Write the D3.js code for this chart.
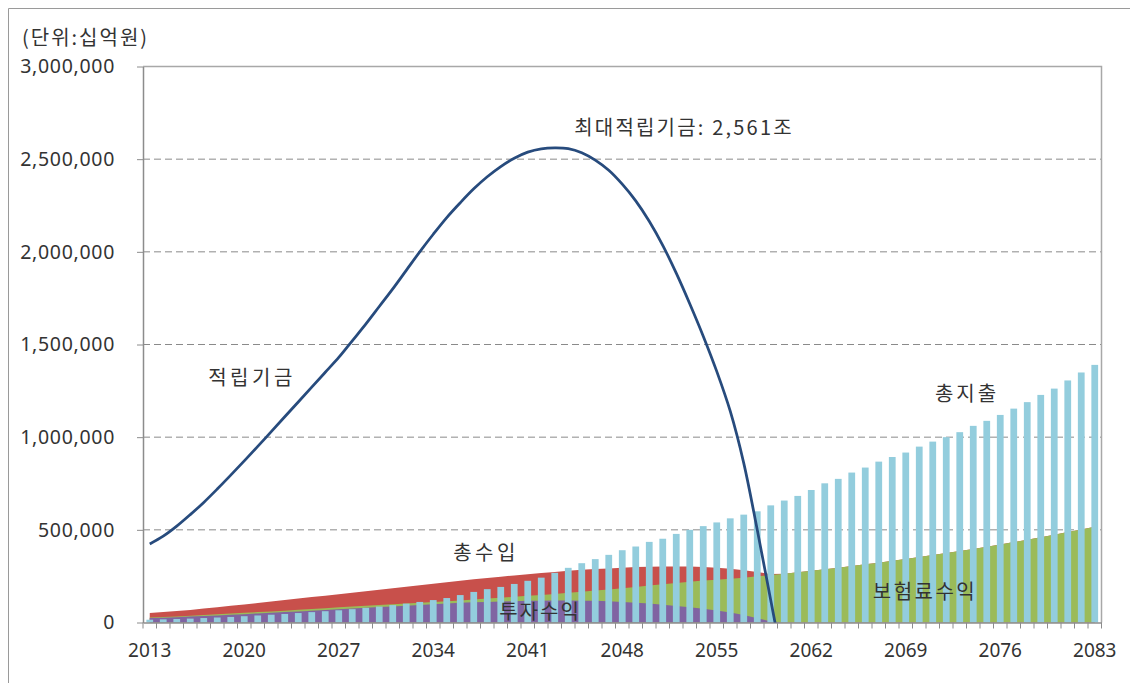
<!DOCTYPE html>
<html>
<head>
<meta charset="utf-8">
<script src="https://cdn.jsdelivr.net/npm/d3@7"></script>
<style>
  body { margin: 0; background: #fff; }
  svg { display: block; }
</style>
</head>
<body>
<svg id="chart" width="1136" height="683"></svg>
<script>
// 국민연금 재정추계 (단위: 십억원), 2013–2083
const years = d3.range(2013, 2084);
const xTickYears = [2013, 2020, 2027, 2034, 2041, 2048, 2055, 2062, 2069, 2076, 2083];
const yTickValues = [0, 500000, 1000000, 1500000, 2000000, 2500000, 3000000];

// 총지출
const totalExpense = [
  15000, 17000, 19000, 21000, 24000, 27000, 30000, 34000, 38000, 42000,          // 2013-2022
  46000, 51000, 56000, 61000, 66000, 72000, 79000, 86000, 94000, 102000,         // 2023-2032
  111000, 121000, 132000, 148000, 165000, 180000, 192000, 208000, 225000, 242000, // 2033-2042
  268000, 295000, 320000, 342000, 365000, 390000, 410000, 435000, 452000, 478000, // 2043-2052
  500000, 520000, 540000, 562000, 582000, 600000, 632000, 658000, 683000, 715000, // 2053-2062
  751000, 775000, 809000, 836000, 868000, 893000, 917000, 949000, 976000, 1000000, // 2063-2072
  1027000, 1061000, 1088000, 1120000, 1154000, 1189000, 1228000, 1262000, 1306000, 1349000, // 2073-2082
  1390000                                                                          // 2083
];

// 총수입
const totalIncome = [
  51000, 56000, 62000, 68000, 75000, 82000, 90000, 97000, 105000, 113000,
  121000, 129000, 137000, 145000, 153000, 161000, 169000, 177000, 185000, 193000,
  201000, 209000, 217000, 225000, 233000, 240000, 247000, 254000, 261000, 267000,
  273000, 279000, 284000, 289000, 292000, 296000, 299000, 301000, 302000, 302000,
  302000, 300000, 296000, 290000, 282000, 272000, 262000, 263000, 271000, 279000,
  287000, 296000, 305000, 314000, 323000, 333000, 343000, 353000, 364000, 375000,
  386000, 397000, 409000, 421000, 434000, 447000, 460000, 474000, 488000, 502000,
  517000
];

// 보험료수익
const premiumIncome = [
  27000, 30000, 33000, 36000, 40000, 44000, 48000, 52000, 56000, 60000,
  64000, 69000, 73000, 77000, 82000, 86000, 90000, 94000, 98000, 102000,
  106000, 110000, 114000, 119000, 124000, 129000, 134000, 139000, 144000, 149000,
  154000, 160000, 166000, 172000, 178000, 185000, 192000, 199000, 206000, 213000,
  220000, 226000, 231000, 236000, 242000, 249000, 256000, 263000, 271000, 279000,
  287000, 296000, 305000, 314000, 323000, 333000, 343000, 353000, 364000, 375000,
  386000, 397000, 409000, 421000, 434000, 447000, 460000, 474000, 488000, 502000,
  517000
];

// 투자수익 (기금 소진 이후 없음)
const investmentIncome = [
  24000, 26000, 29000, 32000, 35000, 38000, 42000, 45000, 49000, 53000,
  57000, 60000, 64000, 68000, 71000, 75000, 79000, 83000, 87000, 91000,
  95000, 99000, 103000, 106000, 109000, 111000, 113000, 115000, 117000, 118000,
  119000, 119000, 118000, 117000, 114000, 111000, 107000, 102000, 96000, 89000,
  82000, 74000, 65000, 54000, 40000, 23000, 6000, 0, null, null,
  null, null, null, null, null, null, null, null, null, null,
  null, null, null, null, null, null, null, null, null, null,
  null
];

// 적립기금 (2060년 소진)
const fundReserve = [
  424000, 466000, 520000, 582000, 648000, 720000, 795000, 872000, 950000, 1030000,
  1110000, 1190000, 1270000, 1350000, 1430000, 1520000, 1610000, 1705000, 1800000, 1900000,
  2000000, 2095000, 2185000, 2265000, 2340000, 2405000, 2460000, 2505000, 2538000, 2556000,
  2561000, 2557000, 2535000, 2495000, 2440000, 2365000, 2275000, 2165000, 2035000, 1885000,
  1720000, 1545000, 1355000, 1140000, 860000, 500000, 120000, -260000, null, null,
  null, null, null, null, null, null, null, null, null, null,
  null, null, null, null, null, null, null, null, null, null,
  null
];

const colors = {
  expense: "#93CDDD",
  income: "#C8504B",
  premium: "#9BBB59",
  investment: "#8064A2",
  fund: "#274B7D",
  grid: "#8A8A8A",
  axis: "#8C8C8C",
  text: "#333333"
};

const krFont = "'Noto Sans CJK KR', 'Noto Sans', sans-serif";
const numFont = "'Noto Sans', 'Noto Sans CJK KR', sans-serif";

const plot = { left: 143, top: 66.5, right: 1101.5, bottom: 622.5 };

const svg = d3.select("#chart");

// outer frame
svg.append("path")
  .attr("d", `M8.5,683 V8.5 H1130`)
  .attr("fill", "none")
  .attr("stroke", "#9a9a9a")
  .attr("stroke-width", 1);

const x = d3.scaleBand().domain(years).range([plot.left, plot.right]);
const xc = yr => x(yr) + x.bandwidth() / 2;
const xBar = d3.scaleBand().domain(years).range([plot.left, plot.right])
  .paddingInner(0.5).paddingOuter(0.25);
const y = d3.scaleLinear().domain([0, 3000000]).range([plot.bottom, plot.top]);

const rows = years.map((yr, i) => ({
  year: yr,
  expense: totalExpense[i],
  income: totalIncome[i],
  premium: premiumIncome[i],
  investment: investmentIncome[i],
  fund: fundReserve[i]
}));

// dashed gridlines
svg.append("g")
  .selectAll("line")
  .data(yTickValues.filter(v => v > 0 && v < 3000000))
  .join("line")
  .attr("x1", plot.left).attr("x2", plot.right)
  .attr("y1", d => y(d)).attr("y2", d => y(d))
  .attr("stroke", colors.grid)
  .attr("stroke-width", 1)
  .attr("stroke-dasharray", "7,4");

// overlapping income areas
function areaFor(key) {
  return d3.area()
    .defined(d => d[key] != null)
    .x(d => xc(d.year))
    .y0(y(0))
    .y1(d => y(d[key]));
}
const areas = svg.append("g");
[["income", colors.income], ["premium", colors.premium], ["investment", colors.investment]]
  .forEach(([key, col]) => {
    areas.append("path")
      .datum(rows)
      .attr("d", areaFor(key))
      .attr("fill", col);
  });

// 총지출 bars
svg.append("g")
  .selectAll("rect")
  .data(rows)
  .join("rect")
  .attr("x", d => xBar(d.year))
  .attr("width", xBar.bandwidth())
  .attr("y", d => y(d.expense))
  .attr("height", d => y(0) - y(d.expense))
  .attr("fill", colors.expense);

// plot border (top & right)
svg.append("path")
  .attr("d", `M${plot.left},${plot.top} H${plot.right} V${plot.bottom}`)
  .attr("fill", "none")
  .attr("stroke", "#a8a8a8")
  .attr("stroke-width", 1.5);

// y axis
const yAxis = svg.append("g")
  .attr("transform", `translate(${plot.left},0)`)
  .call(d3.axisLeft(y).tickValues(yTickValues).tickFormat(d3.format(","))
    .tickSize(6).tickSizeOuter(0).tickPadding(22));
yAxis.select(".domain").attr("stroke", colors.axis).attr("stroke-width", 1.5);
yAxis.selectAll(".tick line").attr("stroke", colors.axis);
yAxis.selectAll("text")
  .attr("font-family", numFont).attr("font-size", 19.5)
  .attr("letter-spacing", 0.7).attr("fill", colors.text);

// x axis: labels at category centres, tick marks between categories
const xAxis = svg.append("g")
  .attr("transform", `translate(0,${plot.bottom})`)
  .call(d3.axisBottom(x).tickValues(xTickYears).tickSize(0).tickSizeOuter(0).tickPadding(21));
xAxis.select(".domain").attr("stroke", colors.axis).attr("stroke-width", 1.5);
xAxis.selectAll("text")
  .attr("font-family", numFont).attr("font-size", 19).attr("fill", colors.text);
xAxis.selectAll(".edge")
  .data(years.concat([null]))
  .join("line")
  .attr("class", "edge")
  .attr("x1", d => d == null ? plot.right : x(d))
  .attr("x2", d => d == null ? plot.right : x(d))
  .attr("y1", 0).attr("y2", 6)
  .attr("stroke", colors.axis)
  .attr("stroke-width", 1);

// 적립기금 line, clipped to the plot area
svg.append("clipPath").attr("id", "plotClip")
  .append("rect")
  .attr("x", plot.left).attr("y", plot.top)
  .attr("width", plot.right - plot.left).attr("height", plot.bottom - plot.top);

svg.append("path")
  .datum(rows)
  .attr("clip-path", "url(#plotClip)")
  .attr("d", d3.line()
    .defined(d => d.fund != null)
    .curve(d3.curveCatmullRom.alpha(0.5))
    .x(d => xc(d.year))
    .y(d => y(d.fund)))
  .attr("fill", "none")
  .attr("stroke", colors.fund)
  .attr("stroke-width", 2.75)
  .attr("stroke-linejoin", "round");

// text labels
const peakFund = d3.max(fundReserve);
const labels = [
  { text: "(단위:십억원)", x: 22, y: 45, anchor: "start", spacing: 2 },
  { text: `최대적립기금: ${d3.format(",")(peakFund / 1000)}조`, x: 684, y: 135, anchor: "middle", spacing: 2.2 },
  { text: "적립기금", x: 252, y: 385, anchor: "middle", spacing: 3.5 },
  { text: "총지출", x: 967, y: 401, anchor: "middle", spacing: 3 },
  { text: "총수입", x: 486, y: 560, anchor: "middle", spacing: 3.5 },
  { text: "보험료수익", x: 925, y: 599, anchor: "middle", spacing: 2.5 },
  { text: "투자수익", x: 540, y: 619, anchor: "middle", spacing: 2 }
];
svg.append("g")
  .selectAll("text")
  .data(labels)
  .join("text")
  .attr("x", d => d.x)
  .attr("y", d => d.y)
  .attr("text-anchor", d => d.anchor)
  .attr("font-family", krFont)
  .attr("font-size", 20)
  .attr("letter-spacing", d => d.spacing)
  .attr("fill", colors.text)
  .text(d => d.text);
</script>
</body>
</html>
